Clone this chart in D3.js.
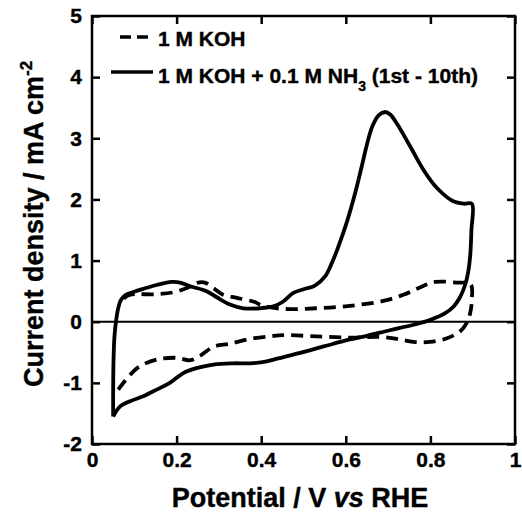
<!DOCTYPE html>
<html>
<head>
<meta charset="utf-8">
<script src="https://cdn.jsdelivr.net/npm/d3@7"></script>
<style>
  body { margin: 0; background: #fff; }
  svg { font-family: "Liberation Sans", Arial, sans-serif; font-weight: bold; }
  svg text { stroke: #000; stroke-width: 0.4px; }
</style>
</head>
<body>
<div class="chart"></div>
<script>
// potential (V vs RHE) and current density (mA cm-2)
const nh3Potential = [0.050, 0.050, 0.051, 0.053, 0.057, 0.062, 0.068, 0.080, 0.100, 0.113, 0.153, 0.188, 0.208, 0.232, 0.271, 0.295, 0.326, 0.358, 0.397, 0.429, 0.452, 0.476, 0.500, 0.527, 0.551, 0.567, 0.582, 0.602, 0.622, 0.638, 0.650, 0.663, 0.678, 0.693, 0.705, 0.720, 0.752, 0.783, 0.815, 0.854, 0.880, 0.898,
  0.897, 0.894, 0.889, 0.882, 0.870, 0.855, 0.835, 0.800, 0.760, 0.704, 0.650, 0.610, 0.550, 0.492, 0.440, 0.413, 0.374, 0.334, 0.287, 0.247, 0.216, 0.184, 0.153, 0.121, 0.090, 0.066, 0.050];
const nh3Current = [-1.55, -1.10, -0.60, -0.25, 0.02, 0.22, 0.35, 0.44, 0.49, 0.52, 0.60, 0.65, 0.64, 0.58, 0.50, 0.40, 0.28, 0.22, 0.22, 0.25, 0.33, 0.47, 0.53, 0.59, 0.74, 0.96, 1.22, 1.62, 2.10, 2.55, 2.90, 3.20, 3.38, 3.43, 3.39, 3.25, 2.87, 2.49, 2.19, 1.97, 1.93, 1.93,
  1.50, 1.07, 0.80, 0.60, 0.40, 0.25, 0.14, 0.03, -0.05, -0.14, -0.23, -0.29, -0.40, -0.51, -0.60, -0.65, -0.68, -0.68, -0.70, -0.76, -0.84, -1.00, -1.11, -1.22, -1.30, -1.39, -1.55];

const kohPotential = [0.075, 0.085, 0.100, 0.113, 0.153, 0.192, 0.224, 0.251, 0.267, 0.287, 0.310, 0.342, 0.381, 0.405, 0.452, 0.531, 0.610, 0.689, 0.736, 0.775, 0.811, 0.862, 0.895,
  0.898, 0.894, 0.886, 0.870, 0.839, 0.799, 0.760, 0.720, 0.681, 0.610, 0.531, 0.452, 0.421, 0.374, 0.326, 0.287, 0.255, 0.232, 0.200, 0.153, 0.113, 0.090, 0.062];
const kohCurrent = [0.38, 0.43, 0.45, 0.45, 0.45, 0.48, 0.55, 0.64, 0.64, 0.55, 0.44, 0.39, 0.33, 0.26, 0.21, 0.22, 0.26, 0.34, 0.44, 0.56, 0.65, 0.64, 0.61,
  0.36, 0.14, -0.02, -0.16, -0.27, -0.33, -0.33, -0.28, -0.25, -0.26, -0.24, -0.22, -0.24, -0.28, -0.36, -0.41, -0.56, -0.63, -0.59, -0.62, -0.73, -0.87, -1.11];

const xTicks = [0, 0.2, 0.4, 0.6, 0.8, 1];
const yTicks = [-2, -1, 0, 1, 2, 3, 4, 5];
const legendLabels = ["1 M KOH", "1 M KOH + 0.1 M NH"];

const margin = { top: 16, right: 7, bottom: 69, left: 92 };
const width = 522 - margin.left - margin.right,
  height = 513 - margin.top - margin.bottom;

const svg = d3.select(".chart")
  .append("svg")
  .attr("width", 522)
  .attr("height", 513);

const g = svg.append("g")
  .attr("transform", "translate(" + margin.left + "," + margin.top + ")");

const xScale = d3.scaleLinear().domain([0, 1]).range([0, width]);
const yScale = d3.scaleLinear().domain([-2, 5]).range([height, 0]);

// axes, ticks pointing inward on all four sides
const xAxis = d3.axisBottom(xScale).tickValues(xTicks).tickSizeInner(-8).tickSizeOuter(0).tickPadding(8)
  .tickFormat(d => d === 0 || d === 1 ? d : d3.format(".1f")(d));
const yAxis = d3.axisLeft(yScale).tickValues(yTicks).tickSizeInner(-8).tickSizeOuter(0).tickPadding(10)
  .tickFormat(d => String(d));
const xTop = d3.axisTop(xScale).tickValues(xTicks).tickSizeInner(-8).tickSizeOuter(0).tickFormat("");
const yRight = d3.axisRight(yScale).tickValues(yTicks).tickSizeInner(-8).tickSizeOuter(0).tickFormat("");

g.append("g").attr("class", "x axis").attr("transform", `translate(0,${height})`).call(xAxis);
g.append("g").attr("class", "y axis").call(yAxis);
g.append("g").attr("class", "x2 axis").call(xTop);
g.append("g").attr("class", "y2 axis").attr("transform", `translate(${width},0)`).call(yRight);

g.selectAll(".axis .domain").remove();
g.selectAll(".axis line").attr("stroke", "#000").attr("stroke-width", 2.5);
g.selectAll(".x.axis text").style("font-size", "21px").style("font-weight", "bold").attr("fill", "#000");
g.selectAll(".y.axis text").style("font-size", "21px").style("font-weight", "bold").attr("fill", "#000");

// zero line
g.append("line")
  .attr("x1", 0).attr("x2", width)
  .attr("y1", yScale(0)).attr("y2", yScale(0))
  .attr("stroke", "#000").attr("stroke-width", 2);

const line = d3.line()
  .x(d => xScale(d[0]))
  .y(d => yScale(d[1]))
  .curve(d3.curveCatmullRom.alpha(0.5));

const kohData = kohPotential.map((v, i) => [v, kohCurrent[i]]);
const nh3Data = nh3Potential.map((v, i) => [v, nh3Current[i]]);

g.append("path")
  .datum(kohData)
  .attr("d", line)
  .attr("fill", "none")
  .attr("stroke", "#000")
  .attr("stroke-width", 3.8)
  .attr("stroke-dasharray", "12,7");

g.append("path")
  .datum(nh3Data)
  .attr("d", line)
  .attr("fill", "none")
  .attr("stroke", "#000")
  .attr("stroke-width", 3.8)
  .attr("stroke-linejoin", "round");

// frame
g.append("rect")
  .attr("width", width).attr("height", height)
  .attr("fill", "none").attr("stroke", "#000").attr("stroke-width", 2.5);

// legend
const legend = svg.append("g");
legend.append("line")
  .attr("x1", 120).attr("x2", 152).attr("y1", 37).attr("y2", 37)
  .attr("stroke", "#000").attr("stroke-width", 3.5).attr("stroke-dasharray", "11,6");
legend.append("text").attr("x", 158).attr("y", 46).style("font-size", "21px").text(legendLabels[0]);
legend.append("line")
  .attr("x1", 111).attr("x2", 153).attr("y1", 72).attr("y2", 72)
  .attr("stroke", "#000").attr("stroke-width", 3.5);
const t2 = legend.append("text").attr("x", 158).attr("y", 83).style("font-size", "21px");
t2.append("tspan").text(legendLabels[1]);
t2.append("tspan").attr("dy", 8).style("font-size", "14px").text("3");
t2.append("tspan").attr("dy", -8).text(" (1st - 10th)");

// axis titles
const xt = svg.append("text")
  .attr("x", 300).attr("y", 507)
  .attr("text-anchor", "middle")
  .style("font-size", "27px");
xt.append("tspan").text("Potential / V ");
xt.append("tspan").style("font-style", "italic").text("vs");
xt.append("tspan").text(" RHE");

const yt = svg.append("text")
  .attr("transform", "translate(43,224) rotate(-90)")
  .attr("text-anchor", "middle")
  .style("font-size", "27px");
yt.append("tspan").text("Current density / mA cm");
yt.append("tspan").attr("dy", -11).style("font-size", "17px").text("-2");
</script>
</body>
</html>
